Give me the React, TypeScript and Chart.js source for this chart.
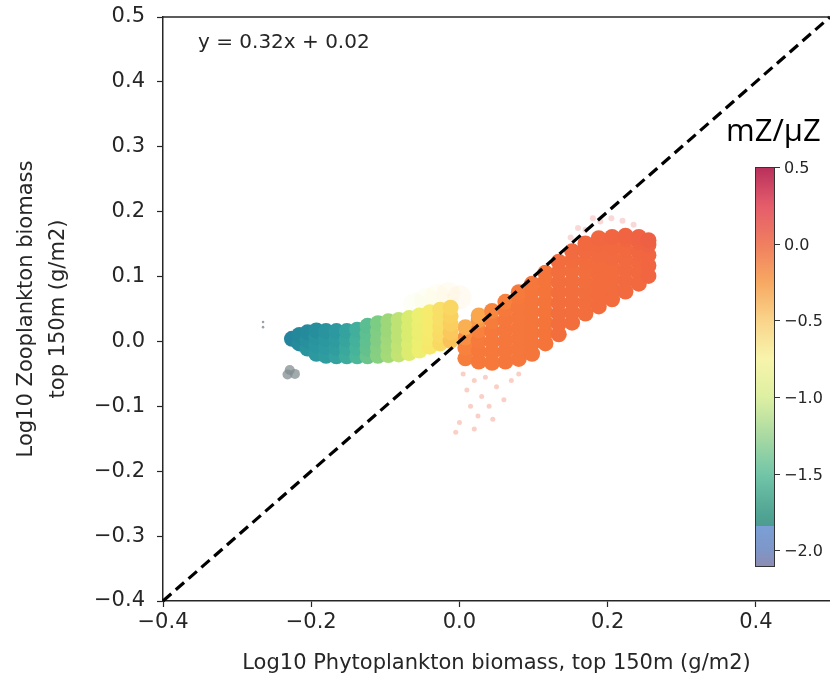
import React, { useEffect, useRef } from "react";
import { Chart, registerables } from "chart.js";

Chart.register(...registerables);

// ---------- data ----------
const xRange = [-0.4, 0.5];
const yRange = [-0.4, 0.5];
const xTicks = [-0.4, -0.2, 0.0, 0.2, 0.4];
const yTicks = [-0.4, -0.3, -0.2, -0.1, 0.0, 0.1, 0.2, 0.3, 0.4, 0.5];
const colourTicks = [0.5, 0.0, -0.5, -1.0, -1.5, -2.0];
const colourRange = [-2.11, 0.5];
const oneToOne = [-0.4, 0.5];
const fitLabel = "y = 0.32x + 0.02";
const colourTitle = "mZ/μZ";
const xTitle = "Log10 Phytoplankton biomass, top 150m (g/m2)";
const yTitle = ["Log10 Zooplankton biomass", "top 150m (g/m2)"];

// [log10 phyto, log10 zoo, log10 mZ/μZ]
const leftPlume: [number, number, number][] = [
  [-0.226, 0.004, -1.78],
  [-0.216, -0.003, -1.72], [-0.216, 0.010, -1.74],
  [-0.205, -0.011, -1.66], [-0.205, 0.002, -1.68], [-0.205, 0.014, -1.72],
  [-0.193, -0.019, -1.62], [-0.193, -0.006, -1.64], [-0.193, 0.007, -1.66], [-0.193, 0.017, -1.70],
  [-0.180, -0.022, -1.59], [-0.180, -0.009, -1.61], [-0.180, 0.004, -1.63], [-0.180, 0.016, -1.66],
  [-0.166, -0.023, -1.56], [-0.166, -0.010, -1.58], [-0.166, 0.003, -1.60], [-0.166, 0.016, -1.62],
  [-0.152, -0.023, -1.50], [-0.152, -0.010, -1.52], [-0.152, 0.003, -1.54], [-0.152, 0.016, -1.56],
  [-0.138, -0.023, -1.43], [-0.138, -0.010, -1.45], [-0.138, 0.003, -1.47], [-0.138, 0.018, -1.48],
  [-0.124, -0.023, -1.33], [-0.124, -0.011, -1.35], [-0.124, 0.000, -1.36], [-0.124, 0.012, -1.37], [-0.124, 0.024, -1.38],
  [-0.110, -0.022, -1.22], [-0.110, -0.010, -1.23], [-0.110, 0.003, -1.24], [-0.110, 0.015, -1.25], [-0.110, 0.028, -1.26],
  [-0.096, -0.021, -1.10], [-0.096, -0.008, -1.11], [-0.096, 0.005, -1.12], [-0.096, 0.018, -1.13], [-0.096, 0.031, -1.13],
  [-0.082, -0.020, -0.98], [-0.082, -0.007, -0.99], [-0.082, 0.007, -1.00], [-0.082, 0.020, -1.00], [-0.082, 0.033, -1.00],
  [-0.068, -0.018, -0.86], [-0.068, -0.005, -0.87], [-0.068, 0.009, -0.88], [-0.068, 0.022, -0.88], [-0.068, 0.036, -0.88],
  [-0.054, -0.014, -0.75], [-0.054, -0.001, -0.76], [-0.054, 0.013, -0.77], [-0.054, 0.026, -0.77], [-0.054, 0.040, -0.76],
  [-0.040, -0.008, -0.64], [-0.040, 0.005, -0.65], [-0.040, 0.018, -0.66], [-0.040, 0.032, -0.66], [-0.040, 0.045, -0.66],
  [-0.026, -0.003, -0.52], [-0.026, 0.010, -0.54], [-0.026, 0.023, -0.56], [-0.026, 0.036, -0.57], [-0.026, 0.049, -0.58],
  [-0.012, 0.001, -0.40], [-0.012, 0.014, -0.43], [-0.012, 0.027, -0.46], [-0.012, 0.039, -0.48], [-0.012, 0.052, -0.50],
];

const orangeCloud: [number, number, number][] = [
  [0.008, -0.026, -0.06], [0.008, -0.010, -0.08], [0.008, 0.006, -0.16], [0.008, 0.022, -0.30],
  [0.026, -0.031, -0.03], [0.026, -0.015, -0.03], [0.026, 0.001, -0.04], [0.026, 0.017, -0.08], [0.026, 0.033, -0.20], [0.026, 0.040, -0.26],
  [0.044, -0.033, -0.03], [0.044, -0.017, -0.03], [0.044, -0.001, -0.03], [0.044, 0.015, -0.03], [0.044, 0.031, -0.05], [0.044, 0.047, -0.12],
  [0.062, -0.031, -0.02], [0.062, -0.015, -0.02], [0.062, 0.001, -0.02], [0.062, 0.017, -0.02], [0.062, 0.033, -0.02], [0.062, 0.049, -0.03], [0.062, 0.061, -0.08],
  [0.080, -0.027, -0.02], [0.080, -0.011, -0.02], [0.080, 0.005, -0.02], [0.080, 0.021, -0.02], [0.080, 0.037, -0.02], [0.080, 0.053, -0.02], [0.080, 0.069, -0.03], [0.080, 0.076, -0.04],
  [0.098, -0.019, -0.01], [0.098, -0.003, -0.01], [0.098, 0.013, -0.01], [0.098, 0.029, -0.01], [0.098, 0.045, -0.01], [0.098, 0.061, -0.01], [0.098, 0.077, -0.01], [0.098, 0.089, -0.02],
  [0.116, -0.003, 0.00], [0.116, 0.013, 0.00], [0.116, 0.029, 0.00], [0.116, 0.045, 0.00], [0.116, 0.061, 0.00], [0.116, 0.077, 0.00], [0.116, 0.093, 0.00], [0.116, 0.106, 0.00],
  [0.134, 0.011, 0.04], [0.134, 0.027, 0.04], [0.134, 0.043, 0.04], [0.134, 0.059, 0.04], [0.134, 0.075, 0.04], [0.134, 0.091, 0.04], [0.134, 0.107, 0.04], [0.134, 0.123, 0.05],
  [0.152, 0.029, 0.04], [0.152, 0.045, 0.04], [0.152, 0.061, 0.04], [0.152, 0.077, 0.04], [0.152, 0.093, 0.04], [0.152, 0.109, 0.04], [0.152, 0.125, 0.05], [0.152, 0.139, 0.06],
  [0.170, 0.043, 0.04], [0.170, 0.059, 0.04], [0.170, 0.075, 0.04], [0.170, 0.091, 0.04], [0.170, 0.107, 0.04], [0.170, 0.123, 0.05], [0.170, 0.139, 0.06], [0.170, 0.151, 0.07],
  [0.188, 0.054, 0.05], [0.188, 0.070, 0.05], [0.188, 0.086, 0.05], [0.188, 0.102, 0.05], [0.188, 0.118, 0.05], [0.188, 0.134, 0.06], [0.188, 0.150, 0.07], [0.188, 0.159, 0.08],
  [0.206, 0.065, 0.05], [0.206, 0.081, 0.05], [0.206, 0.097, 0.05], [0.206, 0.113, 0.05], [0.206, 0.129, 0.06], [0.206, 0.145, 0.07], [0.206, 0.161, 0.09],
  [0.224, 0.077, 0.06], [0.224, 0.093, 0.06], [0.224, 0.109, 0.06], [0.224, 0.125, 0.06], [0.224, 0.141, 0.07], [0.224, 0.157, 0.09], [0.224, 0.163, 0.10],
  [0.242, 0.089, 0.07], [0.242, 0.105, 0.07], [0.242, 0.121, 0.07], [0.242, 0.137, 0.08], [0.242, 0.153, 0.10], [0.242, 0.161, 0.11],
  [0.255, 0.101, 0.09], [0.255, 0.117, 0.09], [0.255, 0.133, 0.09], [0.255, 0.149, 0.11], [0.255, 0.156, 0.12],
];

const faintBelow: [number, number, number][] = [
  [0.005, -0.050, 0.10], [0.020, -0.060, 0.10], [0.035, -0.055, 0.10], [0.010, -0.075, 0.10],
  [0.030, -0.085, 0.10], [0.050, -0.070, 0.10], [0.015, -0.100, 0.10], [0.040, -0.100, 0.10],
  [0.060, -0.090, 0.10], [0.025, -0.115, 0.10], [0.000, -0.125, 0.10], [0.045, -0.120, 0.10],
  [0.070, -0.060, 0.10], [0.080, -0.050, 0.10], [-0.005, -0.140, 0.10], [0.020, -0.135, 0.10],
];

const faintAbove: [number, number, number][] = [
  [0.150, 0.160, 0.20], [0.160, 0.175, 0.20], [0.170, 0.172, 0.20], [0.190, 0.185, 0.20],
  [0.205, 0.190, 0.20], [0.220, 0.186, 0.20], [0.235, 0.180, 0.20], [0.180, 0.190, 0.20],
];

const yellowGlow: [number, number, number][] = [
  [-0.060, 0.056, -0.80], [-0.045, 0.064, -0.70], [-0.030, 0.070, -0.60], [-0.015, 0.073, -0.50], [0.000, 0.068, -0.42],
];

const greyPatch: [number, number][] = [
  [-0.229, -0.044], [-0.222, -0.050], [-0.232, -0.051],
];

const strayMark: [number, number][] = [[-0.265, 0.022], [-0.265, 0.030]];

// ---------- styling helpers ----------
// scatter colour ramp, keyed by log10 mZ/μZ
const RAMP: [number, number[]][] = [
  [-2.0, [50, 110, 170]],
  [-1.75, [35, 135, 155]],
  [-1.6, [45, 155, 160]],
  [-1.45, [70, 180, 155]],
  [-1.3, [115, 200, 135]],
  [-1.1, [165, 218, 120]],
  [-0.9, [215, 235, 112]],
  [-0.7, [245, 240, 112]],
  [-0.5, [250, 214, 98]],
  [-0.3, [250, 175, 82]],
  [-0.15, [248, 140, 64]],
  [0.0, [245, 116, 58]],
  [0.1, [240, 100, 66]],
  [0.3, [215, 60, 80]],
  [0.5, [160, 20, 70]],
];

function rampColour(v: number, a: number): string {
  if (v <= RAMP[0][0]) return `rgba(${RAMP[0][1].join(",")},${a})`;
  for (let i = 0; i < RAMP.length - 1; i++) {
    const [v0, c0] = RAMP[i];
    const [v1, c1] = RAMP[i + 1];
    if (v <= v1) {
      const f = (v - v0) / (v1 - v0);
      const c = c0.map((q, k) => Math.round(q + (c1[k] - q) * f));
      return `rgba(${c.join(",")},${a})`;
    }
  }
  return `rgba(${RAMP[RAMP.length - 1][1].join(",")},${a})`;
}

const fmt = (v: number) => {
  const s = (Math.abs(v) < 1e-9 ? 0 : v).toFixed(1);
  return s.replace("-", "\u2212");
};

const TEXT = "#262626";
const FONT = "'DejaVu Sans', sans-serif";

// colorbar appearance (sampled from the reference's bar)
const CBAR_STOPS: [number, string][] = [
  [0.5, "rgb(184,48,92)"],
  [0.25, "rgb(228,92,106)"],
  [0.0, "rgb(240,126,96)"],
  [-0.25, "rgb(247,168,98)"],
  [-0.5, "rgb(249,212,138)"],
  [-0.75, "rgb(248,244,172)"],
  [-1.0, "rgb(222,240,162)"],
  [-1.25, "rgb(170,218,162)"],
  [-1.5, "rgb(115,198,168)"],
  [-1.75, "rgb(82,166,148)"],
  [-1.84, "rgb(76,156,144)"],
  [-1.8401, "rgb(122,160,214)"],
  [-2.0, "rgb(126,150,200)"],
  [-2.11, "rgb(140,140,176)"],
];

const overlayPlugin = {
  id: "overlay",
  afterDraw(chart: any) {
    const { ctx, chartArea } = chart;
    ctx.save();
    // top spine
    ctx.strokeStyle = TEXT;
    ctx.lineWidth = 1.5;
    ctx.beginPath();
    ctx.moveTo(chartArea.left, chartArea.top);
    ctx.lineTo(chartArea.right, chartArea.top);
    ctx.stroke();

    // fit equation
    ctx.fillStyle = TEXT;
    ctx.font = `20px ${FONT}`;
    ctx.textAlign = "left";
    ctx.textBaseline = "alphabetic";
    ctx.fillText(fitLabel, chartArea.left + 35, chartArea.top + 31);

    // colorbar
    const bx = 755, bw = 20, bTop = 167, bBot = 567;
    const vTop = colourRange[1], vBot = colourRange[0];
    const yOf = (v: number) => bTop + ((vTop - v) / (vTop - vBot)) * (bBot - bTop);
    const grad = ctx.createLinearGradient(0, bTop, 0, bBot);
    for (const [v, c] of CBAR_STOPS) {
      grad.addColorStop(Math.max(0, Math.min(1, (vTop - v) / (vTop - vBot))), c);
    }
    ctx.fillStyle = grad;
    ctx.fillRect(bx, bTop, bw, bBot - bTop);
    ctx.strokeStyle = "#333";
    ctx.lineWidth = 1;
    ctx.strokeRect(bx + 0.5, bTop + 0.5, bw - 1, bBot - bTop - 1);

    ctx.font = `16px ${FONT}`;
    ctx.fillStyle = TEXT;
    ctx.textBaseline = "middle";
    ctx.textAlign = "left";
    for (const v of colourTicks) {
      const y = Math.round(yOf(v)) + 0.5;
      ctx.beginPath();
      ctx.moveTo(bx + bw, y);
      ctx.lineTo(bx + bw + 5, y);
      ctx.stroke();
      ctx.fillText(fmt(v), bx + bw + 9, y + 1);
    }

    // colorbar title
    ctx.font = `31px 'Open Sans', sans-serif`;
    ctx.fillStyle = "#000";
    ctx.textBaseline = "alphabetic";
    ctx.textAlign = "left";
    ctx.fillText(colourTitle, 726, 141);
    ctx.restore();
  },
};

export default function App() {
  const ref = useRef<HTMLCanvasElement | null>(null);

  useEffect(() => {
    if (!ref.current) return;
    const toPts = (arr: number[][]) => arr.map((p) => ({ x: p[0], y: p[1] }));
    const chart = new Chart(ref.current, {
      type: "scatter",
      data: {
        datasets: [
          {
            type: "line",
            label: "1:1",
            data: oneToOne.map((v) => ({ x: v, y: v })),
            borderColor: "#000",
            borderWidth: 3.2,
            borderDash: [11, 6],
            pointRadius: 0,
            fill: false,
            clip: false,
            order: 0,
          } as any,
          {
            label: "plume",
            data: toPts(leftPlume),
            backgroundColor: leftPlume.map((p) => rampColour(p[2], 1)),
            borderWidth: 0,
            pointRadius: 8,
            order: 2,
          },
          {
            label: "cloud",
            data: toPts(orangeCloud),
            backgroundColor: orangeCloud.map((p) => rampColour(p[2], 1)),
            borderWidth: 0,
            pointRadius: 8,
            order: 2,
          },
          {
            label: "glow",
            data: toPts(yellowGlow),
            backgroundColor: yellowGlow.map((p) => rampColour(p[2], 0.07)),
            borderWidth: 0,
            pointRadius: 12,
            order: 3,
          },
          {
            label: "faint below",
            data: toPts(faintBelow),
            backgroundColor: faintBelow.map((p) => rampColour(p[2], 0.3)),
            borderWidth: 0,
            pointRadius: 2.5,
            order: 3,
          },
          {
            label: "faint above",
            data: toPts(faintAbove),
            backgroundColor: faintAbove.map((p) => rampColour(p[2], 0.22)),
            borderWidth: 0,
            pointRadius: 3,
            order: 3,
          },
          {
            label: "grey",
            data: toPts(greyPatch),
            backgroundColor: "rgba(130,142,146,0.75)",
            borderWidth: 0,
            pointRadius: 5,
            order: 3,
          },
          {
            label: "stray",
            data: toPts(strayMark),
            backgroundColor: "rgba(90,100,110,0.6)",
            borderWidth: 0,
            pointRadius: 1.3,
            order: 3,
          },
        ],
      },
      options: {
        responsive: false,
        animation: false,
        devicePixelRatio: 1,
        layout: { autoPadding: false, padding: { top: 17, right: 0, left: 0, bottom: 0 } },
        plugins: { legend: { display: false }, tooltip: { enabled: false } },
        scales: {
          x: {
            type: "linear",
            min: xRange[0],
            max: xRange[1],
            afterBuildTicks: (s: any) => {
              s.ticks = xTicks.map((v) => ({ value: v }));
            },
            afterFit: (s: any) => {
              s.height = 78;
              s.paddingLeft = 0;
              s.paddingRight = 0;
            },
            grid: { drawOnChartArea: false, drawTicks: true, tickLength: 6, tickColor: TEXT, tickWidth: 1.2 },
            border: { display: true, color: TEXT, width: 1.5 },
            ticks: {
              font: { family: FONT, size: 21 },
              color: TEXT,
              padding: 3,
              maxRotation: 0,
              autoSkip: false,
              callback: (v: any) => fmt(Number(v)),
            },
            title: {
              display: true,
              text: xTitle,
              font: { family: FONT, size: 21 },
              color: TEXT,
              padding: { top: 0, bottom: 3 },
            },
          },
          y: {
            type: "linear",
            min: yRange[0],
            max: yRange[1],
            afterBuildTicks: (s: any) => {
              s.ticks = yTicks.map((v) => ({ value: v }));
            },
            afterFit: (s: any) => {
              s.width = 163;
              s.paddingTop = 0;
              s.paddingBottom = 0;
            },
            grid: { drawOnChartArea: false, drawTicks: true, tickLength: 6, tickColor: TEXT, tickWidth: 1.2 },
            border: { display: true, color: TEXT, width: 1.5 },
            ticks: {
              font: { family: FONT, size: 21 },
              color: TEXT,
              padding: 12,
              autoSkip: false,
              callback: (v: any) => fmt(Number(v)),
            },
            title: {
              display: true,
              text: yTitle,
              font: { family: FONT, size: 21, lineHeight: 1.5 },
              color: TEXT,
              padding: { top: 11, bottom: 0 },
            },
          },
        },
      },
      plugins: [overlayPlugin],
    } as any);
    return () => chart.destroy();
  }, []);

  return (
    <div style={{ position: "absolute", left: 0, top: 0, width: 830, height: 679, background: "#fff" }}>
      <canvas ref={ref} width={830} height={679} style={{ display: "block" }} />
    </div>
  );
}
